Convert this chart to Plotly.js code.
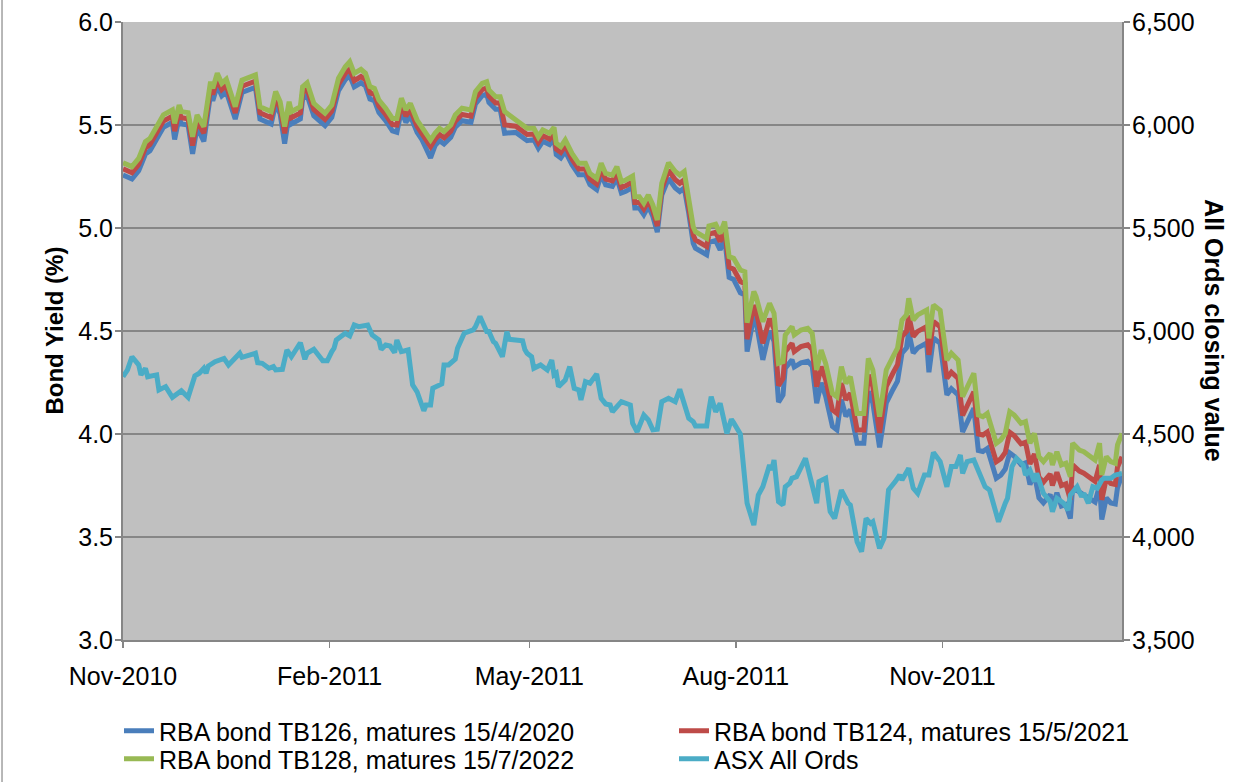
<!DOCTYPE html>
<html>
<head>
<meta charset="utf-8">
<script src="https://cdn.plot.ly/plotly-3.0.1.min.js"></script>
<style>
  html, body { margin:0; padding:0; background:#ffffff; }
  #chart { width:1249px; height:782px; }
</style>
</head>
<body>
<div id="chart"></div>
<script>
// ---- Data ----
const bondDates = [
'2010-11-01','2010-11-05','2010-11-08','2010-11-11','2010-11-13','2010-11-16','2010-11-17','2010-11-19','2010-11-23','2010-11-24',
'2010-11-26','2010-11-27','2010-11-30','2010-12-02','2010-12-04','2010-12-07','2010-12-10','2010-12-11','2010-12-13','2010-12-15',
'2010-12-17','2010-12-21','2010-12-24','2010-12-30','2011-01-01','2011-01-06','2011-01-08','2011-01-10','2011-01-12','2011-01-14',
'2011-01-15','2011-01-19','2011-01-20','2011-01-22','2011-01-25','2011-01-30','2011-02-02','2011-02-05','2011-02-08','2011-02-10',
'2011-02-12','2011-02-15','2011-02-17','2011-02-19','2011-02-21','2011-02-23','2011-02-26','2011-03-01','2011-03-03','2011-03-05',
'2011-03-07','2011-03-09','2011-03-12','2011-03-14','2011-03-18','2011-03-20','2011-03-22','2011-03-24','2011-03-27','2011-03-29',
'2011-04-01','2011-04-05','2011-04-07','2011-04-10','2011-04-12','2011-04-13','2011-04-16','2011-04-18','2011-04-20','2011-04-25',
'2011-04-30','2011-05-03','2011-05-05','2011-05-07','2011-05-10','2011-05-12','2011-05-13','2011-05-15','2011-05-17','2011-05-20',
'2011-05-23','2011-05-26','2011-05-28','2011-05-31','2011-06-02','2011-06-04','2011-06-07','2011-06-09','2011-06-11','2011-06-13',
'2011-06-16','2011-06-17','2011-06-19','2011-06-21','2011-06-23','2011-06-25','2011-06-27','2011-06-29','2011-07-02','2011-07-05',
'2011-07-07','2011-07-09','2011-07-11','2011-07-13','2011-07-14','2011-07-17','2011-07-19','2011-07-20','2011-07-23','2011-07-25',
'2011-07-27','2011-07-29','2011-07-31','2011-08-03','2011-08-05','2011-08-06','2011-08-09','2011-08-10','2011-08-13','2011-08-16',
'2011-08-18','2011-08-20','2011-08-22','2011-08-23','2011-08-26','2011-08-27','2011-08-30','2011-09-02','2011-09-04','2011-09-06',
'2011-09-08','2011-09-10','2011-09-13','2011-09-15','2011-09-17','2011-09-19','2011-09-21','2011-09-24','2011-09-27','2011-09-29',
'2011-10-01','2011-10-04','2011-10-07','2011-10-10','2011-10-12','2011-10-14','2011-10-16','2011-10-17','2011-10-19','2011-10-21',
'2011-10-25','2011-10-26','2011-10-28','2011-10-31','2011-11-03','2011-11-05','2011-11-08','2011-11-10','2011-11-12','2011-11-15',
'2011-11-17','2011-11-19','2011-11-21','2011-11-25','2011-11-27','2011-11-29','2011-12-01','2011-12-03','2011-12-06','2011-12-08',
'2011-12-10','2011-12-12','2011-12-14','2011-12-16','2011-12-19','2011-12-20','2011-12-22','2011-12-24','2011-12-26','2011-12-28',
'2011-12-29','2012-01-01','2012-01-03','2012-01-05','2012-01-08','2012-01-10','2012-01-11','2012-01-13','2012-01-15','2012-01-17',
'2012-01-18','2012-01-20'];

// RBA bond TB126, matures 15/4/2020
const tb126 = [
5.257,5.238,5.278,5.359,5.375,5.432,5.448,5.489,5.513,5.43,
5.537,5.505,5.50,5.36,5.489,5.42,5.65,5.618,5.691,5.642,
5.662,5.529,5.658,5.683,5.529,5.505,5.602,5.553,5.41,5.553,
5.505,5.529,5.626,5.645,5.545,5.497,5.537,5.667,5.72,5.74,
5.685,5.705,5.69,5.626,5.618,5.561,5.521,5.472,5.465,5.57,
5.513,5.545,5.464,5.432,5.34,5.40,5.424,5.408,5.44,5.489,
5.521,5.513,5.602,5.642,5.65,5.61,5.577,5.577,5.46,5.464,
5.424,5.429,5.388,5.421,5.405,5.434,5.356,5.34,5.372,5.307,
5.259,5.259,5.21,5.186,5.259,5.21,5.202,5.243,5.17,5.178,
5.197,5.097,5.097,5.065,5.105,5.057,4.98,5.16,5.24,5.194,
5.177,5.194,5.072,4.926,4.902,4.886,4.87,4.93,4.939,4.894,
4.951,4.76,4.75,4.685,4.675,4.40,4.57,4.545,4.36,4.50,
4.45,4.155,4.19,4.32,4.36,4.325,4.345,4.353,4.33,4.15,
4.248,4.183,4.037,4.02,4.167,4.086,4.118,3.955,3.955,4.207,
4.151,3.935,4.151,4.216,4.256,4.393,4.418,4.495,4.393,4.418,
4.442,4.30,4.466,4.44,4.19,4.22,4.19,4.01,4.06,4.125,
3.92,3.915,3.93,3.785,3.80,3.83,3.908,3.892,3.852,3.86,
3.755,3.803,3.69,3.666,3.706,3.65,3.714,3.65,3.658,3.59,
3.74,3.72,3.71,3.695,3.67,3.75,3.585,3.69,3.665,3.66,
3.74,3.80];

// RBA bond TB124, matures 15/5/2021
const tb124 = [
5.287,5.268,5.308,5.389,5.405,5.462,5.478,5.519,5.543,5.47,
5.567,5.535,5.53,5.40,5.519,5.46,5.68,5.648,5.721,5.672,
5.692,5.559,5.688,5.713,5.559,5.535,5.632,5.583,5.46,5.583,
5.535,5.559,5.656,5.675,5.575,5.527,5.567,5.697,5.75,5.77,
5.715,5.735,5.72,5.656,5.648,5.591,5.551,5.502,5.50,5.60,
5.543,5.575,5.494,5.462,5.395,5.43,5.454,5.438,5.47,5.519,
5.551,5.543,5.632,5.672,5.68,5.64,5.607,5.607,5.50,5.494,
5.454,5.456,5.415,5.448,5.432,5.461,5.383,5.367,5.399,5.334,
5.286,5.286,5.237,5.213,5.286,5.237,5.229,5.27,5.197,5.205,
5.224,5.124,5.124,5.092,5.132,5.084,5.01,5.19,5.28,5.234,
5.217,5.234,5.112,4.966,4.942,4.926,4.91,4.97,4.979,4.934,
4.991,4.81,4.80,4.74,4.73,4.46,4.625,4.60,4.44,4.56,
4.51,4.235,4.27,4.40,4.44,4.40,4.425,4.433,4.41,4.23,
4.328,4.263,4.117,4.10,4.247,4.166,4.198,4.02,4.02,4.287,
4.231,4.005,4.231,4.296,4.336,4.473,4.498,4.575,4.473,4.498,
4.522,4.384,4.546,4.52,4.27,4.30,4.27,4.09,4.14,4.205,
4.0,3.995,4.01,3.865,3.88,3.91,4.008,3.992,3.952,3.96,
3.855,3.903,3.79,3.766,3.806,3.75,3.814,3.75,3.758,3.68,
3.85,3.82,3.81,3.795,3.77,3.85,3.68,3.785,3.76,3.755,
3.84,3.89];

// RBA bond TB128, matures 15/7/2022
const tb128 = [
5.317,5.298,5.338,5.419,5.435,5.492,5.508,5.549,5.573,5.508,
5.597,5.565,5.56,5.443,5.549,5.492,5.71,5.678,5.751,5.702,
5.722,5.589,5.718,5.743,5.589,5.565,5.662,5.613,5.492,5.613,
5.565,5.589,5.686,5.705,5.605,5.557,5.597,5.727,5.783,5.807,
5.751,5.77,5.751,5.686,5.678,5.621,5.581,5.532,5.532,5.63,
5.573,5.605,5.524,5.492,5.427,5.46,5.484,5.468,5.5,5.549,
5.581,5.573,5.662,5.702,5.71,5.67,5.637,5.637,5.565,5.524,
5.484,5.484,5.443,5.476,5.46,5.489,5.411,5.395,5.427,5.362,
5.314,5.314,5.265,5.241,5.314,5.265,5.257,5.298,5.225,5.233,
5.252,5.152,5.152,5.12,5.16,5.112,5.039,5.217,5.317,5.274,
5.257,5.274,5.152,5.006,4.982,4.966,4.95,5.01,5.019,4.974,
5.031,4.861,4.853,4.796,4.788,4.54,4.691,4.667,4.545,4.634,
4.586,4.343,4.351,4.481,4.521,4.481,4.505,4.513,4.489,4.311,
4.408,4.343,4.197,4.181,4.327,4.246,4.278,4.1,4.1,4.367,
4.311,4.084,4.311,4.376,4.416,4.553,4.578,4.659,4.553,4.578,
4.602,4.464,4.626,4.6,4.359,4.392,4.359,4.181,4.23,4.295,
4.092,4.084,4.1,3.955,3.971,4.003,4.108,4.092,4.052,4.06,
3.955,4.003,3.89,3.866,3.906,3.85,3.914,3.85,3.858,3.793,
3.955,3.922,3.914,3.898,3.874,3.955,3.801,3.89,3.866,3.858,
3.947,4.003];

const asxDates = [
'2010-11-01','2010-11-03','2010-11-05','2010-11-08','2010-11-09','2010-11-11','2010-11-12','2010-11-16','2010-11-17','2010-11-20',
'2010-11-23','2010-11-27','2010-11-30','2010-12-03','2010-12-05','2010-12-07','2010-12-08','2010-12-09','2010-12-12','2010-12-16',
'2010-12-18','2010-12-23','2010-12-24','2010-12-30','2010-12-31','2011-01-02','2011-01-05','2011-01-07','2011-01-08','2011-01-11',
'2011-01-13','2011-01-15','2011-01-19','2011-01-21','2011-01-22','2011-01-25','2011-01-29','2011-01-31','2011-02-02','2011-02-03',
'2011-02-04','2011-02-08','2011-02-10','2011-02-12','2011-02-14','2011-02-18','2011-02-20','2011-02-23','2011-02-24','2011-02-26',
'2011-02-28','2011-03-02','2011-03-03','2011-03-05','2011-03-08','2011-03-10','2011-03-12','2011-03-15','2011-03-16','2011-03-18',
'2011-03-19','2011-03-23','2011-03-24','2011-03-26','2011-03-29','2011-03-30','2011-04-02','2011-04-06','2011-04-07','2011-04-09',
'2011-04-12','2011-04-13','2011-04-15','2011-04-16','2011-04-19','2011-04-21','2011-04-22','2011-04-28','2011-04-29','2011-04-30',
'2011-05-02','2011-05-03','2011-05-06','2011-05-07','2011-05-09','2011-05-11','2011-05-12','2011-05-13','2011-05-14','2011-05-17',
'2011-05-19','2011-05-21','2011-05-23','2011-05-24','2011-05-26','2011-05-28','2011-05-31','2011-06-02','2011-06-04','2011-06-06',
'2011-06-07','2011-06-11','2011-06-15','2011-06-16','2011-06-18','2011-06-21','2011-06-23','2011-06-25','2011-06-27','2011-06-29',
'2011-07-02','2011-07-05','2011-07-07','2011-07-11','2011-07-13','2011-07-14','2011-07-19','2011-07-20','2011-07-21','2011-07-23',
'2011-07-25','2011-07-28','2011-07-30','2011-07-31','2011-08-03','2011-08-06','2011-08-09','2011-08-11','2011-08-13','2011-08-16',
'2011-08-17','2011-08-18','2011-08-20','2011-08-22','2011-08-23','2011-08-25','2011-08-26','2011-08-28','2011-09-01','2011-09-06',
'2011-09-07','2011-09-10','2011-09-12','2011-09-14','2011-09-17','2011-09-20','2011-09-21','2011-09-24','2011-09-26','2011-09-28',
'2011-09-30','2011-10-01','2011-10-04','2011-10-06','2011-10-08','2011-10-11','2011-10-13','2011-10-14','2011-10-17','2011-10-19',
'2011-10-21','2011-10-24','2011-10-26','2011-10-28','2011-10-31','2011-11-03','2011-11-05','2011-11-07','2011-11-09','2011-11-10',
'2011-11-12','2011-11-15','2011-11-17','2011-11-20','2011-11-22','2011-11-26','2011-11-29','2011-11-30','2011-12-02','2011-12-04',
'2011-12-07','2011-12-08','2011-12-10','2011-12-12','2011-12-13','2011-12-16','2011-12-19','2011-12-20','2011-12-22','2011-12-25',
'2011-12-27','2011-12-28','2011-12-31','2012-01-02','2012-01-03','2012-01-05','2012-01-07','2012-01-09','2012-01-11','2012-01-12',
'2012-01-15','2012-01-17','2012-01-20'];

// ASX All Ords closing value
const allOrds = [
4778,4811,4875,4835,4787,4819,4778,4787,4714,4730,
4678,4710,4678,4782,4795,4819,4795,4830,4851,4867,
4835,4892,4872,4892,4846,4843,4819,4827,4811,4814,
4908,4875,4943,4863,4892,4911,4855,4855,4900,4916,
4956,4989,4976,5029,5021,5029,4981,4956,4911,4932,
4927,4895,4956,4900,4908,4738,4705,4613,4641,4641,
4722,4743,4835,4835,4863,4916,4989,5005,5021,5070,
4997,4997,4948,4940,4875,4997,4960,4953,4910,4892,
4875,4819,4835,4827,4811,4859,4787,4795,4730,4762,
4827,4722,4714,4665,4754,4746,4791,4673,4646,4641,
4608,4657,4641,4552,4511,4592,4568,4520,4523,4657,
4673,4657,4717,4576,4560,4539,4539,4617,4681,4608,
4649,4503,4571,4555,4500,4164,4058,4204,4244,4350,
4325,4374,4172,4155,4244,4261,4285,4293,4382,4164,
4269,4285,4123,4090,4228,4164,4155,3977,3929,4090,
4066,4074,3945,3994,4228,4269,4301,4277,4334,4237,
4212,4301,4301,4410,4366,4244,4342,4342,4398,4309,
4366,4374,4325,4244,4228,4074,4164,4188,4342,4382,
4350,4301,4325,4269,4309,4212,4172,4123,4188,4164,
4131,4204,4244,4196,4212,4164,4244,4237,4277,4285,
4285,4301,4309];

const seriesNames = [
  'RBA bond TB126, matures 15/4/2020',
  'RBA bond TB124, matures 15/5/2021',
  'RBA bond TB128, matures 15/7/2022',
  'ASX All Ords'
];
const seriesColors = ['#4A7EBB', '#BE4B48', '#98B954', '#4BACC6'];

const xTickStart = '2010-11-01';
const xRange = ['2010-11-01', '2012-01-20'];
const yRange = [3, 6];
const y2Range = [3500, 6500];

// ---- Traces ----
const lw = 5;
const traces = [
  {x: bondDates, y: tb126, name: seriesNames[0], type: 'scatter', mode: 'lines', legend: 'legend',
   line: {color: seriesColors[0], width: lw}, hoverinfo: 'skip'},
  {x: bondDates, y: tb124, name: seriesNames[1], type: 'scatter', mode: 'lines', legend: 'legend2',
   line: {color: seriesColors[1], width: lw}, hoverinfo: 'skip'},
  {x: bondDates, y: tb128, name: seriesNames[2], type: 'scatter', mode: 'lines', legend: 'legend3',
   line: {color: seriesColors[2], width: lw}, hoverinfo: 'skip'},
  {x: asxDates, y: allOrds, name: seriesNames[3], type: 'scatter', mode: 'lines', legend: 'legend4',
   yaxis: 'y2', line: {color: seriesColors[3], width: lw}, hoverinfo: 'skip'}
];

const axisGrey = '#868686';
const fontFam = '"Liberation Sans", Arial, sans-serif';
const tickFontSize = 25;
const legFontSize = 25;

function legendAt(xPx, yTopPx) {
  return {
    xref: 'container', yref: 'container',
    x: xPx / 1249, y: (782 - yTopPx) / 782, xanchor: 'left', yanchor: 'top',
    font: {size: legFontSize, color: '#000'}, bgcolor: 'rgba(0,0,0,0)',
    itemwidth: 30, borderwidth: 0
  };
}

const layout = {
  width: 1249, height: 782,
  margin: {l: 123, r: 127, t: 22, b: 142, autoexpand: false},
  paper_bgcolor: '#ffffff',
  plot_bgcolor: '#c0c0c0',
  font: {family: fontFam, size: tickFontSize, color: '#000000'},
  showlegend: true,
  xaxis: {
    type: 'date', range: xRange, tick0: xTickStart, dtick: 'M3', tickformat: '%b-%Y',
    tickangle: 0, automargin: false,
    ticks: 'outside', ticklen: 6, tickwidth: 1.5, tickcolor: axisGrey,
    showline: true, linecolor: axisGrey, linewidth: 2,
    showgrid: false, zeroline: false, ticklabelstandoff: 7,
    tickfont: {size: tickFontSize, color: '#000'}
  },
  yaxis: {
    range: yRange, dtick: 0.5, tick0: 3, tickformat: '.1f', automargin: false,
    ticks: 'outside', ticklen: 6, tickwidth: 1.5, tickcolor: axisGrey,
    showline: true, linecolor: axisGrey, linewidth: 2,
    showgrid: true, gridcolor: axisGrey, gridwidth: 2, zeroline: false,
    ticklabelstandoff: -3,
    tickfont: {size: tickFontSize, color: '#000'}
  },
  yaxis2: {
    range: y2Range, dtick: 500, tick0: 3500, tickformat: ',d', automargin: false,
    overlaying: 'y', side: 'right',
    ticks: 'outside', ticklen: 6, tickwidth: 1.5, tickcolor: axisGrey,
    showline: true, linecolor: axisGrey, linewidth: 2,
    showgrid: false, zeroline: false, ticklabelstandoff: -3,
    tickfont: {size: tickFontSize, color: '#000'}
  },
  legend: legendAt(119, 708),
  legend2: legendAt(674, 708),
  legend3: legendAt(119, 736),
  legend4: legendAt(674, 736),
  annotations: [
    {text: '<b>Bond Yield (%)</b>', xref: 'paper', yref: 'paper',
     x: -0.085, y: 0.5, textangle: -90, showarrow: false,
     font: {size: 24, color: '#000'}},
    {text: '<b>All Ords closing value</b>', xref: 'paper', yref: 'paper',
     x: 1.108, y: 0.5, textangle: 90, showarrow: false,
     font: {size: 25, color: '#000'}}
  ],
  shapes: [
    {type: 'line', xref: 'paper', yref: 'paper',
     x0: -0.1211, x1: -0.1211, y0: -0.2298, y1: 1.0356,
     line: {color: '#a0a0a0', width: 1.5}}
  ]
};

Plotly.newPlot('chart', traces, layout, {staticPlot: true, displayModeBar: false});
</script>
</body>
</html>
